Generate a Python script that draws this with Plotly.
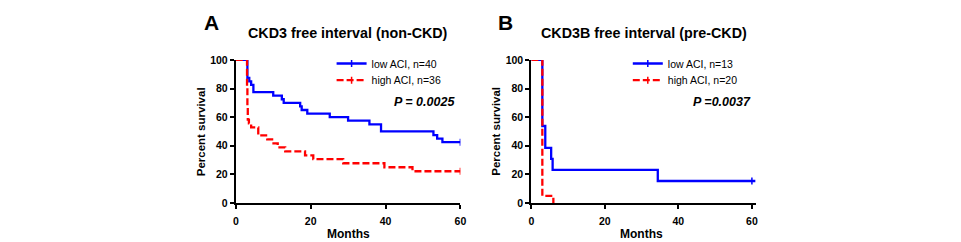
import plotly.graph_objects as go

W, H = 961, 242
FONT = "Arial, 'Liberation Sans', sans-serif"
BLUE = "#0000ff"
RED = "#ff0000"

# ---------------- data ----------------
# Panel A: CKD3 free interval (non-CKD)
a_low_t = [0, 3.1, 3.6, 4.1, 4.7, 10.0, 12.3, 12.8, 17.2, 17.6, 19.1, 25.1, 30.0, 35.7, 38.8, 52.8, 53.8, 55.2, 60]
a_low_s = [100, 87.5, 85.0, 82.5, 77.5, 75.0, 72.5, 70.0, 67.5, 65.0, 62.5, 60.0, 57.5, 55.0, 50.0, 47.5, 45.0, 42.5, 42.5]
a_high_t = [0, 3.0, 3.1, 3.2, 3.5, 4.1, 6.0, 8.4, 9.7, 11.2, 13.2, 18.5, 20.7, 28.7, 39.7, 47.2, 60]
a_high_s = [100, 80.6, 66.7, 58.3, 55.6, 52.8, 47.2, 44.4, 41.7, 38.9, 36.1, 33.3, 30.6, 27.8, 25.0, 22.2, 22.2]
a_low_cens_t, a_low_cens_s = [60], [42.5]
a_high_cens_t, a_high_cens_s = [60], [22.2]

# Panel B: CKD3B free interval (pre-CKD)
b_low_t = [0, 3.0, 3.8, 5.4, 5.8, 34.4, 61]
b_low_s = [100, 53.8, 38.5, 30.8, 23.1, 15.4, 15.4]
b_high_t = [0, 3.0, 6.0]
b_high_s = [100, 5.0, 0.0]
b_low_cens_t, b_low_cens_s = [60], [15.4]
b_high_cens_t, b_high_cens_s = [None], [None]

names_a = ["low ACI, n=40", "high ACI, n=36"]
names_b = ["low ACI, n=13", "high ACI, n=20"]
titles = ["CKD3 free interval (non-CKD)", "CKD3B free interval (pre-CKD)"]
letters = ["A", "B"]
pvals = ["P = 0.0025", "P =0.0037"]
x_ticks = [0, 20, 40, 60]
y_ticks = [0, 20, 40, 60, 80, 100]
x_ranges = [[0, 60], [0, 61]]

# ---------------- layout geometry (pixels) ----------------
px = lambda v: v / W
py = lambda v: (H - v) / H
dom_px = [[235, 461.7], [533.3, 759.7]]
dom_x = [[px(a), px(b)] for a, b in dom_px]
dom_y = [py(207.3), py(56.7)]

fig = go.Figure()

panels = [
    (a_low_t, a_low_s, a_high_t, a_high_s, a_low_cens_t, a_low_cens_s, a_high_cens_t, a_high_cens_s, names_a),
    (b_low_t, b_low_s, b_high_t, b_high_s, b_low_cens_t, b_low_cens_s, b_high_cens_t, b_high_cens_s, names_b),
]
legend_ids = [["legend", "legend2"], ["legend3", "legend4"]]
dash = "7px,3px"
for i, (lt, ls, ht, hs, lct, lcs, hct, hcs, nm) in enumerate(panels):
    xa = "x" if i == 0 else "x2"
    ya = "y" if i == 0 else "y2"
    fig.add_trace(go.Scatter(x=lt, y=ls, mode="lines", line=dict(color=BLUE, width=2.3, shape="hv"),
                             xaxis=xa, yaxis=ya, showlegend=False, hoverinfo="skip"))
    fig.add_trace(go.Scatter(x=ht, y=hs, mode="lines", line=dict(color=RED, width=2.3, shape="hv", dash=dash),
                             xaxis=xa, yaxis=ya, showlegend=False, hoverinfo="skip"))
    fig.add_trace(go.Scatter(x=lct, y=lcs, mode="lines+markers", name=nm[0], legend=legend_ids[i][0],
                             line=dict(color=BLUE, width=2.3),
                             marker=dict(symbol="line-ns-open", size=5, line=dict(color=BLUE, width=1.5)),
                             xaxis=xa, yaxis=ya, hoverinfo="skip"))
    fig.add_trace(go.Scatter(x=hct, y=hcs, mode="lines+markers", name=nm[1], legend=legend_ids[i][1],
                             line=dict(color=RED, width=2.3, dash=dash),
                             marker=dict(symbol="line-ns-open", size=5, line=dict(color=RED, width=1.5)),
                             xaxis=xa, yaxis=ya, hoverinfo="skip"))

axis_common = dict(showline=True, linecolor="black", linewidth=2, ticks="outside", ticklen=4,
                   tickwidth=2, tickcolor="black", showgrid=False, zeroline=False,
                   tickfont=dict(family=FONT, size=10.5, color="black", weight="bold"))

leg_font = dict(family=FONT, size=10.5, color="black")
def leg(xp, yp):
    return dict(x=px(xp), y=py(yp), xanchor="left", yanchor="middle", bgcolor="rgba(0,0,0,0)",
                font=leg_font, borderwidth=0)

layout = dict(
    width=W, height=H, margin=dict(l=0, r=0, t=0, b=0), autosize=False,
    paper_bgcolor="white", plot_bgcolor="white",
    font=dict(family=FONT, color="black"),
    xaxis=dict(domain=dom_x[0], range=x_ranges[0], tickvals=x_ticks, anchor="y", ticklabelstandoff=3, **axis_common),
    yaxis=dict(domain=dom_y, range=[0, 100], tickvals=y_ticks, anchor="x", **axis_common),
    xaxis2=dict(domain=dom_x[1], range=x_ranges[1], tickvals=x_ticks, anchor="y2", ticklabelstandoff=3, **axis_common),
    yaxis2=dict(domain=dom_y, range=[0, 100], tickvals=y_ticks, anchor="x2", **axis_common),
    legend=leg(331.7, 60.5),
    legend2=leg(331.7, 78),
    legend3=leg(630.7, 60.5),
    legend4=leg(630.7, 78),
)
fig.update_layout(**layout)

ann = []
title_cx = [348, 646.7]
letter_cx = [210.5, 507.5]
p_right = [458.3, 756.7]
ytitle_cx = [200.7, 498]
months_cx = [(dom_px[0][0] + dom_px[0][1]) / 2, 533.3 + 111.3]
for i in range(2):
    ann.append(dict(text="<b>%s</b>" % titles[i], x=px(title_cx[i]), y=py(28.5), xref="paper", yref="paper",
                    xanchor="center", yanchor="middle", showarrow=False, font=dict(family=FONT, size=14.3)))
    ann.append(dict(text="<b>%s</b>" % letters[i], x=px(letter_cx[i]), y=py(17), xref="paper", yref="paper",
                    xanchor="center", yanchor="middle", showarrow=False, font=dict(family=FONT, size=21)))
    ann.append(dict(text="<b><i>%s</i></b>" % pvals[i], x=px(p_right[i]), y=py(101.5), xref="paper", yref="paper",
                    xanchor="right", yanchor="middle", showarrow=False, font=dict(family=FONT, size=12.5)))
    ann.append(dict(text="<b>Percent survival</b>", x=px(ytitle_cx[i]), y=py(132), xref="paper", yref="paper",
                    xanchor="center", yanchor="middle", textangle=-90, showarrow=False,
                    font=dict(family=FONT, size=11.5)))
    ann.append(dict(text="<b>Months</b>", x=px(months_cx[i]), y=py(240), xref="paper", yref="paper",
                    xanchor="center", yanchor="middle", showarrow=False, font=dict(family=FONT, size=12)))
fig.update_layout(annotations=ann)

fig.write_html("out.html")
